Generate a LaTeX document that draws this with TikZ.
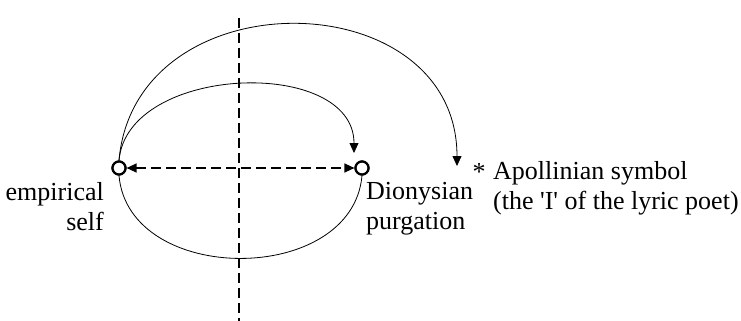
\documentclass[tikz,border=0pt]{standalone}
\usepackage{fontspec}
\newfontfamily\labelfont{Liberation Serif}
\usetikzlibrary{arrows.meta}

\begin{document}
\begin{tikzpicture}[x=1pt,y=1pt]
\tikzset{
  pt/.style={circle,draw=black,line width=2.2pt,fill=white,minimum size=13pt,inner sep=0pt},
  lbl/.style={inner sep=0pt,font=\labelfont\fontsize{26}{30}\selectfont},
  ar/.style={-{Triangle[length=10pt,width=9pt]},line width=0.8pt},
  dsh/.style={line width=1.3pt,dash pattern=on 10pt off 5pt},
  ln/.style={line width=0.8pt}
}
\useasboundingbox (0,0) rectangle (741,-321);
\node[pt] (emp) at (119,-168) {};
\node[pt] (dio) at (362,-168) {};
\coordinate (vtop) at (239,-18);
\coordinate (vbot) at (239,-321);
\coordinate (inend) at (354,-153);
\coordinate (outend) at (457,-166);
% axes
\draw[dsh] (vtop) -- (vbot);
\draw[dsh,{Triangle[length=10pt,width=9pt]}-{Triangle[length=10pt,width=9pt]}] (emp) -- (dio);
% arcs
\draw[ar] (emp.north) to[out=85,in=90,looseness=1.05] (inend);
\draw[ar] (emp.north) to[out=85,in=90,looseness=1.4] (outend);
\draw[ln] (emp.south) to[out=-85,in=-95,looseness=1.17] (dio.south);
\node[pt] at (emp) {};
\node[pt] at (dio) {};
% labels
\node[lbl,align=right,anchor=north east] (emptxt) at (104,-182) {empirical\\self};
\node[lbl,align=left,anchor=north west] (diotxt) at (366,-182) {Dionysian\\purgation};
\node[lbl,anchor=base] (star) at (479,-180) {*};
\node[lbl,align=left,anchor=north west] (apol) at (493,-161) {Apollinian symbol\\(the 'I' of the lyric poet)};
\end{tikzpicture}
\end{document}
